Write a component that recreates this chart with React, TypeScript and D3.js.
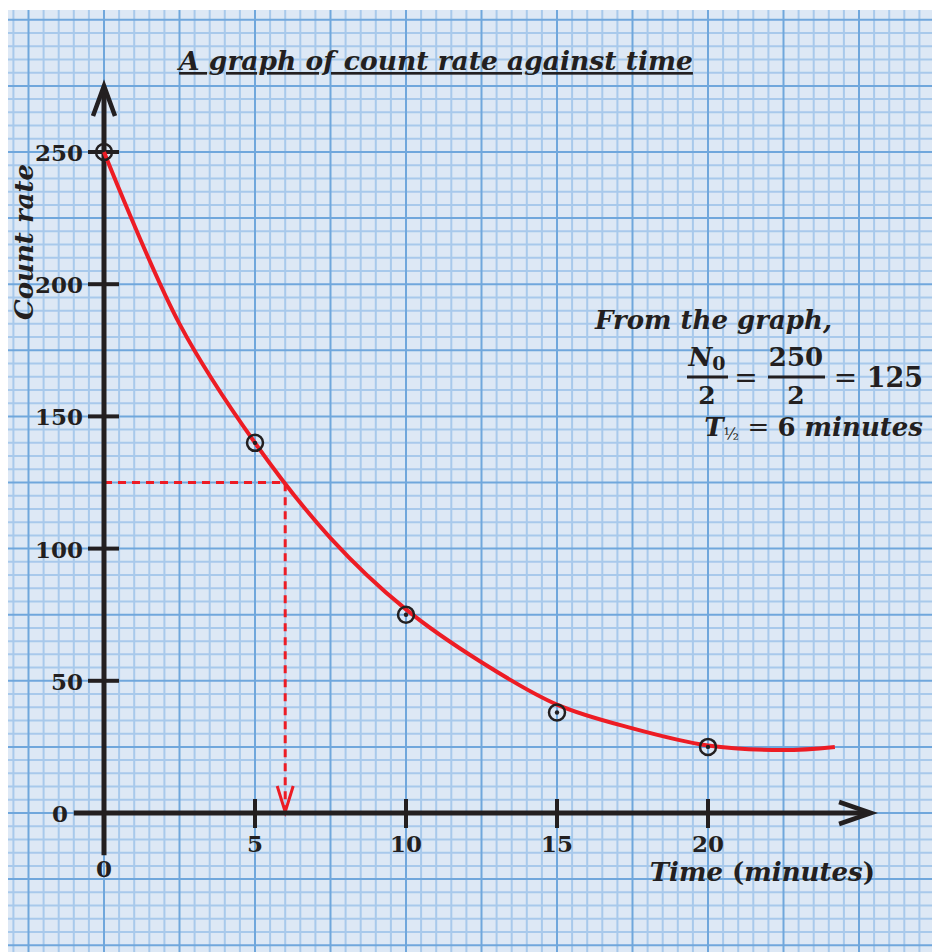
import * as d3 from 'd3';

// measured points
const times = [0, 5, 10, 15, 20];
const counts = [250, 140, 75, 38, 25];

// hand-drawn best fit curve
const curveTimes = [0, 2.5, 5, 7.5, 10, 12.5, 15, 17.5, 20, 22.5, 24.2];
const curveCounts = [250, 185, 140, 104, 77, 57, 41, 32, 25.5, 23.8, 25];

const xTicks = [5, 10, 15, 20];
const yTicks = [50, 100, 150, 200, 250];

const halfLife = 6;
const halfCount = 125;

const W = 932, H = 952;
const serif = "'DejaVu Serif', serif";
const ink = '#231f20';
const red = '#ed1c24';

export default function App() {
  const x = d3.scaleLinear().domain([0, 20]).range([104, 708]);
  const y = d3.scaleLinear().domain([0, 250]).range([813, 152]);

  // graph paper, follows the data scales
  const xMinor = d3.range(-3, 27.6, 0.5).filter(v => Math.abs(v / 2.5 - Math.round(v / 2.5)) > 1e-6);
  const xMajor = d3.range(-2.5, 27.6, 2.5);
  const yMinor = d3.range(-55, 305, 5).filter(v => v % 25 !== 0);
  const yMajor = d3.range(-50, 305, 25);

  const line = d3.line<number>()
    .x((_, i) => x(curveTimes[i]))
    .y(d => y(d))
    .curve(d3.curveCatmullRom.alpha(0.5));

  const yTop = 275, yBottom = -16, xStart = -1, xEnd = 25.4;

  return (
    <svg width={W} height={H} style={{ position: 'absolute', left: 0, top: 0 }}>
      <rect x={0} y={0} width={W} height={H} fill="#fff" />
      <clipPath id="paper"><rect x={8} y={10} width={W - 8} height={H - 10} /></clipPath>
      <g clipPath="url(#paper)">
        <rect x={8} y={10} width={W - 8} height={H - 10} fill="#dde8f5" />
        {xMinor.map(v => <line key={'xm' + v} x1={x(v)} x2={x(v)} y1={0} y2={H} stroke="#a8c9eb" strokeWidth={2} />)}
        {yMinor.map(v => <line key={'ym' + v} y1={y(v)} y2={y(v)} x1={0} x2={W} stroke="#a8c9eb" strokeWidth={2} />)}
        {xMajor.map(v => <line key={'xM' + v} x1={x(v)} x2={x(v)} y1={0} y2={H} stroke="#70a7dc" strokeWidth={2} />)}
        {yMajor.map(v => <line key={'yM' + v} y1={y(v)} y2={y(v)} x1={0} x2={W} stroke="#70a7dc" strokeWidth={2} />)}
      </g>

      <text x={436} y={70} textAnchor="middle" fontFamily={serif} fontWeight="bold" fontStyle="italic"
        fontSize={26.5} fill={ink} textDecoration="underline">A graph of count rate against time</text>

      {/* half-life construction */}
      <g stroke={red} strokeWidth={3} fill="none">
        <path d={`M${x(0)},${y(halfCount)}H${x(halfLife)}V${y(0) - 3}`} strokeDasharray="8 6" />
        <path d={`M${x(halfLife) - 8},${y(0) - 27}L${x(halfLife)},${y(0) - 1}L${x(halfLife) + 8},${y(0) - 27}`} />
      </g>

      {/* axes */}
      <g stroke={ink} strokeWidth={5} fill="none" strokeLinecap="butt">
        <line x1={x(0)} x2={x(0)} y1={y(yBottom)} y2={y(yTop) + 2} />
        <line x1={x(xStart)} x2={x(xEnd) - 2} y1={y(0)} y2={y(0)} />
        <path d={`M${x(0) - 11},${y(yTop) + 30}L${x(0)},${y(yTop)}L${x(0) + 11},${y(yTop) + 30}`} strokeWidth={4.5} />
        <path d={`M${x(xEnd) - 32},${y(0) - 11}L${x(xEnd)},${y(0)}L${x(xEnd) - 32},${y(0) + 11}`} strokeWidth={4.5} />
        {yTicks.map(t => <line key={'yt' + t} x1={x(0) - 16} x2={x(0) + 15} y1={y(t)} y2={y(t)} strokeWidth={4} />)}
        {xTicks.map(t => <line key={'xt' + t} x1={x(t)} x2={x(t)} y1={y(0) - 14} y2={y(0) + 15} strokeWidth={4} />)}
      </g>

      <g fontFamily={serif} fontWeight="bold" fontSize={23} fill={ink}>
        {yTicks.map(t => <text key={'yl' + t} x={x(0) - 21} y={y(t) + 9} textAnchor="end">{t}</text>)}
        <text x={x(0) - 36} y={y(0) + 9} textAnchor="end">0</text>
        {xTicks.map(t => <text key={'xl' + t} x={x(t)} y={y(0) + 39} textAnchor="middle">{t}</text>)}
        <text x={x(0)} y={y(0) + 64} textAnchor="middle">0</text>
      </g>

      <path d={line(curveCounts) || ''} fill="none" stroke={red} strokeWidth={4} />

      {times.map((t, i) => (
        <g key={'p' + t}>
          <circle cx={x(t)} cy={y(counts[i])} r={8} fill="none" stroke={ink} strokeWidth={2.5} />
          {i > 0 && <circle cx={x(t)} cy={y(counts[i])} r={2.2} fill={ink} />}
        </g>
      ))}

      {/* axis titles */}
      <text transform="translate(33,242) rotate(-90)" textAnchor="middle" fontFamily={serif} fontWeight="bold"
        fontStyle="italic" fontSize={26} fill={ink}>Count rate</text>
      <text x={875} y={881} textAnchor="end" fontFamily={serif} fontWeight="bold" fontSize={26} fill={ink}>
        <tspan fontStyle="italic">Time</tspan> (<tspan fontStyle="italic">minutes</tspan>)
      </text>

      {/* half-life working */}
      <g fontFamily={serif} fontWeight="bold" fill={ink}>
        <text x={595} y={329} fontStyle="italic" fontSize={26}>From the graph,</text>
        <text x={707} y={366} textAnchor="middle" fontSize={26}><tspan fontStyle="italic">N</tspan><tspan fontSize={19} dy={4}>0</tspan></text>
        <line x1={687} x2={728} y1={377} y2={377} stroke={ink} strokeWidth={3} />
        <text x={707} y={404} textAnchor="middle" fontSize={25}>2</text>
        <text x={746} y={387} textAnchor="middle" fontSize={28} fontWeight="normal">=</text>
        <text x={796} y={366} textAnchor="middle" fontSize={26}>250</text>
        <line x1={768} x2={825} y1={377} y2={377} stroke={ink} strokeWidth={3} />
        <text x={796} y={404} textAnchor="middle" fontSize={25}>2</text>
        <text x={923} y={387} textAnchor="end" fontSize={27}><tspan fontWeight="normal" fontSize={28}>=</tspan> 125</text>
        <text x={923} y={436} textAnchor="end" fontSize={26}>
          <tspan fontStyle="italic">T</tspan><tspan fontSize={16} fontWeight="normal" dy={4}>½</tspan><tspan dy={-4} fontWeight="normal"> = </tspan>6 <tspan fontStyle="italic">minutes</tspan>
        </text>
      </g>
    </svg>
  );
}
